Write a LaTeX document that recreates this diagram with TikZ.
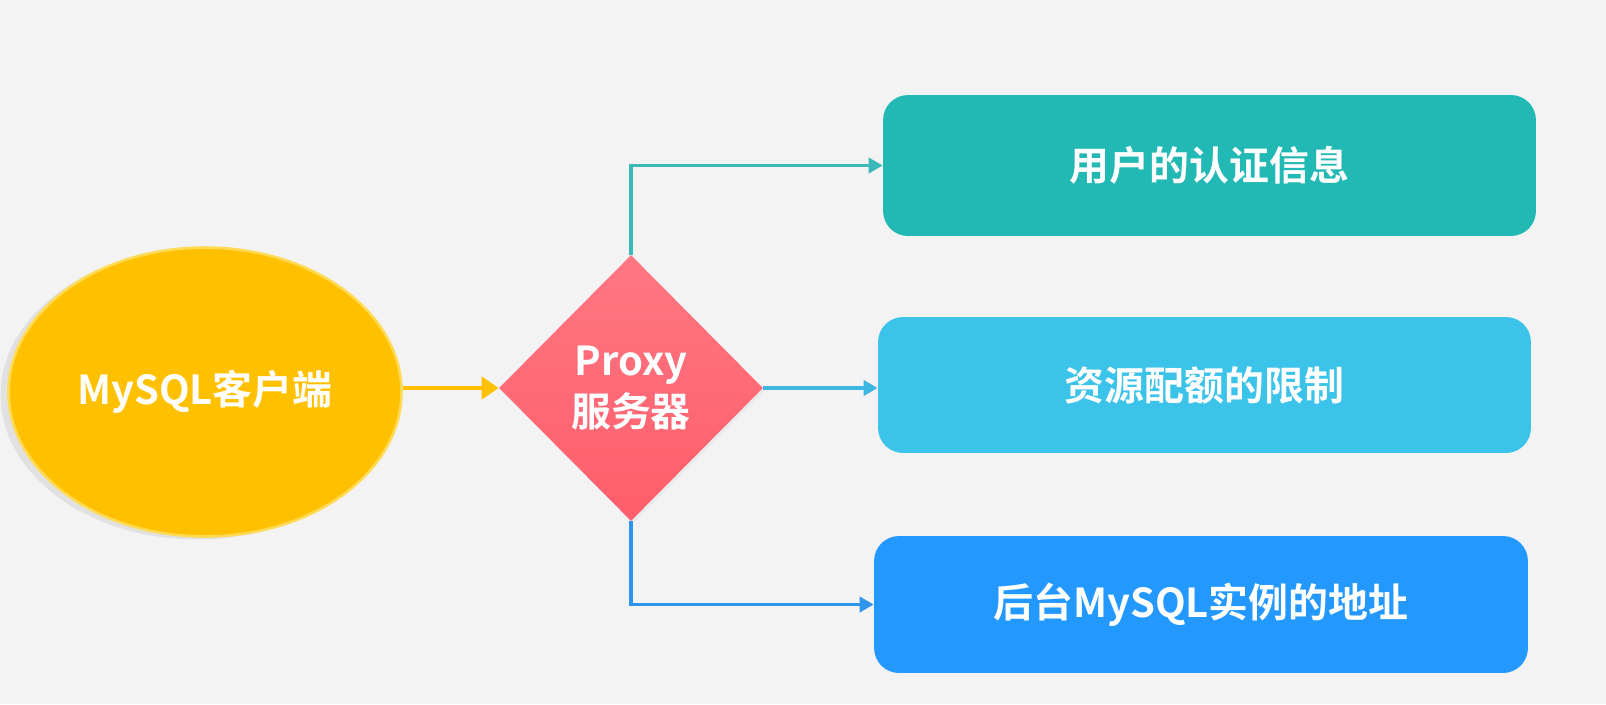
\documentclass[tikz,border=0pt]{standalone}
\usepackage{fontspec}
\setmainfont{Noto Sans CJK SC}[BoldFont={Noto Sans CJK SC Bold}]
\usetikzlibrary{arrows.meta,shapes.geometric,shadows}
\definecolor{bgc}{HTML}{F3F3F3}
\definecolor{clientc}{HTML}{FFC000}
\definecolor{clientrim}{HTML}{FFDA55}
\definecolor{proxytop}{HTML}{FF7783}
\definecolor{proxybot}{HTML}{FF5D6B}
\definecolor{boxa}{HTML}{22B9B5}
\definecolor{boxb}{HTML}{3CC3E9}
\definecolor{boxc}{HTML}{2399FF}
\definecolor{linea}{HTML}{3BB8B8}
\definecolor{lineb}{HTML}{3DB8E3}
\definecolor{linec}{HTML}{2F95EC}
\tikzset{
  lbl/.style={text=white,font=\bfseries\fontsize{22.7}{28.9}\selectfont,align=center},
  infobox/.style={rounded corners=0.5cm,minimum width=13.06cm,inner sep=0pt},
  conn/.style={line width=2.1pt,-{Triangle[length=0.28cm,width=0.3cm]}},
}
\begin{document}
\begin{tikzpicture}[x=0.02cm,y=-0.02cm]
\fill[bgc] (0,0) rectangle (1606,704);
\useasboundingbox (0,0) rectangle (1606,704);
% client ellipse
\node[ellipse,fill=clientc,draw=clientrim,line width=1.5pt,minimum width=7.86cm,minimum height=5.78cm,inner sep=0pt,
  drop shadow={opacity=0.15,shadow xshift=-0.16cm,shadow yshift=-0.06cm}] (client) at (205,392) {};
\node[lbl] (clientlbl) at (client.center) {MySQL客户端};
% proxy diamond
\node[diamond,top color=proxytop,bottom color=proxybot,draw=none,minimum width=5.28cm,minimum height=5.32cm,inner sep=0pt,
  drop shadow={opacity=0.07,shadow xshift=0.04cm,shadow yshift=-0.05cm}] (proxy) at (631,388) {};
\node[lbl] (proxylbl) at (proxy.center) {Proxy\\服务器};
% boxes
\node[infobox,fill=boxa,minimum height=2.82cm] (boxa) at (1209.5,165.5) {};
\node[lbl] (boxalbl) at (boxa.center) {用户的认证信息};
\node[infobox,fill=boxb,minimum height=2.72cm] (boxb) at (1204.5,385) {};
\node[lbl] (boxblbl) at (boxb.center) {资源配额的限制};
\node[infobox,fill=boxc,minimum height=2.74cm,minimum width=13.08cm] (boxc) at (1201,604.5) {};
\node[lbl] (boxclbl) at (boxc.center) {后台MySQL实例的地址};
% connectors
\draw[clientc,line width=2.8pt,-{Triangle[length=0.34cm,width=0.44cm]}] (client.east |- proxy.west) -- (proxy.west);
\draw[conn,linea] (proxy.north) |- (boxa.west);
\draw[conn,lineb] (proxy.east) -- (boxb.west |- proxy.east);
\draw[conn,linec] (proxy.south) |- (boxc.west);
\end{tikzpicture}
\end{document}
